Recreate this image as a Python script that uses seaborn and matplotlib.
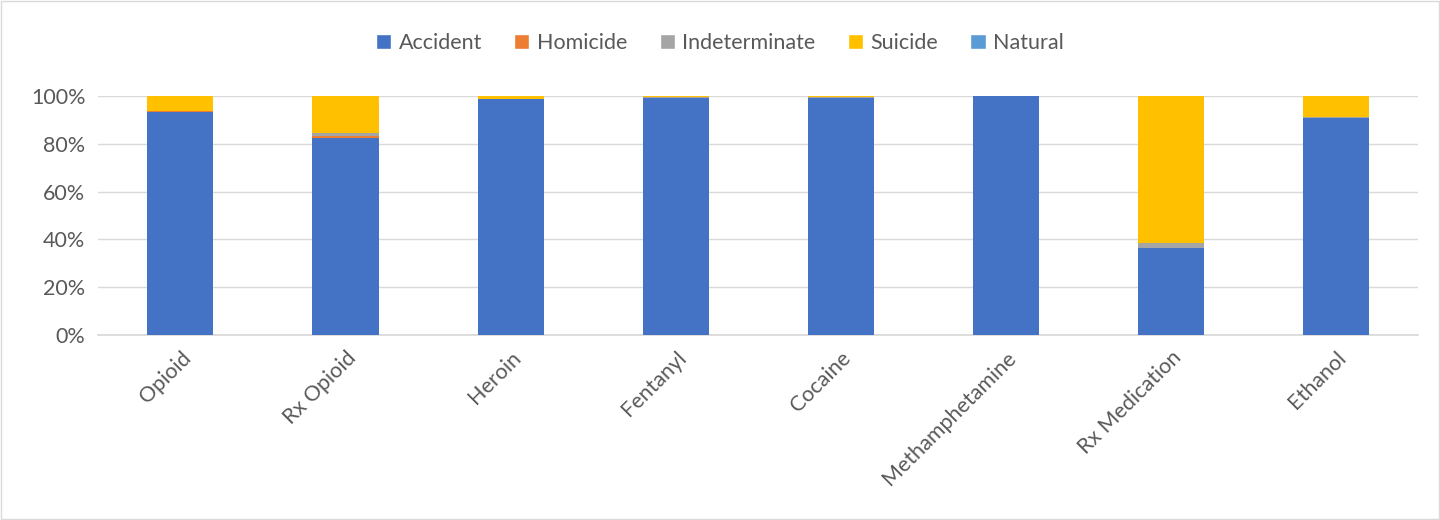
import numpy as np
import pandas as pd
import matplotlib
matplotlib.use("Agg")
import matplotlib.pyplot as plt
import seaborn as sns
from matplotlib.patches import Patch
from matplotlib.ticker import PercentFormatter

# data (percent of deaths by manner)
drugs = ['Opioid', 'Rx Opioid', 'Heroin', 'Fentanyl', 'Cocaine',
         'Methamphetamine', 'Rx Medication', 'Ethanol']
accident = [93.5, 82.6, 98.8, 99.4, 99.2, 99.9, 36.2, 90.7]
homicide = [0.3, 0.6, 0.0, 0.0, 0.0, 0.0, 0.0, 0.0]
indeterminate = [0.2, 1.2, 0.2, 0.4, 0.5, 0.1, 2.2, 0.7]
suicide = [6.0, 15.6, 1.0, 0.2, 0.3, 0.0, 61.6, 8.6]
natural = [0.0, 0.0, 0.0, 0.0, 0.0, 0.0, 0.0, 0.0]

manners = ['Accident', 'Homicide', 'Indeterminate', 'Suicide', 'Natural']
colors = ['#4472C4', '#ED7D31', '#A5A5A5', '#FFC000', '#5B9BD5']

df = pd.DataFrame({'drug': drugs, 'Accident': accident, 'Homicide': homicide,
                   'Indeterminate': indeterminate, 'Suicide': suicide,
                   'Natural': natural})
cum = df[manners].cumsum(axis=1)
cum = cum.div(cum['Natural'], axis=0) * 100  # 100% stacked
cum['drug'] = df['drug']

sns.set_theme(style="white")
plt.rcParams['font.family'] = ['Lato', 'DejaVu Sans']

fig = plt.figure(figsize=(14.4, 5.2), dpi=100)
ax = fig.add_axes([0.068, 0.356, 0.917, 0.459])

# draw tallest cumulative first so lower segments sit on top
for m, c in reversed(list(zip(manners, colors))):
    sns.barplot(data=cum, x='drug', y=m, color=c, width=0.4, ax=ax,
                saturation=1, edgecolor='none', order=drugs, zorder=3)

ax.set_ylim(0, 100)
ax.set_yticks(range(0, 101, 20))
ax.yaxis.set_major_formatter(PercentFormatter(decimals=0))
ax.grid(axis='y', color='#D9D9D9', linewidth=1, zorder=0)
ax.set_axisbelow(True)
ax.set_xlabel('')
ax.set_ylabel('')
for s in ['top', 'right', 'left']:
    ax.spines[s].set_visible(False)
ax.spines['bottom'].set_color('#D9D9D9')
ax.tick_params(axis='both', length=0, labelsize=15.5, colors='#595959', pad=9)
plt.setp(ax.get_xticklabels(), rotation=45, ha='right', rotation_mode='anchor')

handles = [Patch(facecolor=c, label=m) for m, c in zip(manners, colors)]
fig.legend(handles=handles, loc='center', bbox_to_anchor=(0.5, 0.917), ncol=5,
           frameon=False, fontsize=15.5, handlelength=0.7, handleheight=0.7,
           handletextpad=0.35, columnspacing=1.5, labelcolor='#595959')

# thin border around chart area
fig.patches.append(plt.Rectangle((0.001, 0.002), 0.998, 0.996, transform=fig.transFigure,
                                 fill=False, edgecolor='#D9D9D9', linewidth=1))

fig.savefig('out.png', dpi=100)
